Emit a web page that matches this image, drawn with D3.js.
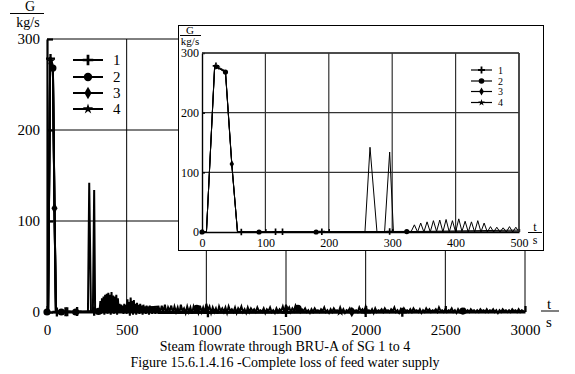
<!DOCTYPE html>
<html>
<head>
<meta charset="utf-8">
<script src="https://cdnjs.cloudflare.com/ajax/libs/d3/7.8.5/d3.min.js"></script>
<style>
  body { margin: 0; background: #fff; }
  svg { display: block; }
  text { font-family: "Liberation Serif", "Times New Roman", serif; fill: #000; }
</style>
</head>
<body>
<div id="chart"></div>
<script>
// ---- data ----
const seriesNames = ["1", "2", "3", "4"];
const markerTypes = ["plus", "circle", "diamond", "star"];

// first discharge peak (all SGs)
const peakT = [0, 7, 20, 24, 30, 37, 47, 56];
const peakV1 = [0, 0, 280, 277, 274, 270, 115, 0];
const peakV2 = [0, 0, 278, 276, 272, 268, 113, 0];
const peakV3 = [0, 0, 279, 275, 273, 269, 114, 0];
const peakV4 = [0, 0, 277, 276, 272, 267, 112, 0];

// later short openings
const spike1T = [257, 265, 276];
const spike1V = [0, 142, 0];
const spike2T = [288, 296, 302];
const spike2V = [0, 134, 0];

// oscillating flow after 330 s, every 5 s up to 700 s
const noiseAStart = 330, noiseAStep = 5;
const noiseA = [1, 12, -2, 15, 0, 17, -3, 19, 1, 20, -2, 21, 0, 19, -3, 22, 1, 18, -2, 17,
  0, 19, -3, 15, 0, 9, -1, 8, 0, 7, -2, 9, 0, 8, -2, 14, 1, 11, -4, 16,
  0, 12, -3, 13, 1, 9, -3, 10, 0, 8, -2, 9, 1, 7, -3, 8, 0, 6, -2, 7,
  1, 5, -3, 7, 0, 6, -2, 5, 1, 6, -2, 5, 0, 6, -1];

// small flow from 700 s to 3000 s, every 10 s
const noiseBStart = 700, noiseBStep = 10;
const noiseB = [6, -1, 7, 0, 8, -2, 5, 1, 7, -1, 6, 0, 5, -2, 8, 1, 4, -1, 6, 0,
  5, -2, 6, 1, 4, -1, 7, 0, 5, -1, 9, 2, 6, -1, 5, 0, 4, -2, 6, 1,
  4, 0, 5, -1, 6, 1, 3, 0, 5, -1, 4, 1, 6, 0, 3, -1, 5, 0, 4, 1,
  3, 0, 5, 1, 2, 0, 4, -1, 3, 1, 5, 0, 2, -1, 4, 0, 3, 1, 6, 0,
  8, 2, 5, 0, 4, 1, 7, 3, 5, 0, 3, 1, 4, 0, 2, -1, 3, 0, 4, 1,
  2, 0, 3, 1, 5, 0, 2, -1, 3, 0, 4, 1, 2, 0, 5, 0, 3, -1, 2, 1,
  4, 0, 3, 1, 2, 0, 5, 1, 3, 0, 6, 1, 2, 0, 3, -1, 4, 0, 2, 1,
  3, 0, 4, 1, 2, 0, 3, 1, 5, 0, 2, -1, 3, 0, 4, 1, 2, 0, 3, 0,
  4, 1, 2, 0, 3, -1, 2, 0, 4, 1, 3, 0, 2, 1, 3, 0, 5, 1, 2, 0,
  3, 0, 2, 1, 4, 0, 2, -1, 3, 0, 2, 1, 3, 0, 2, 0, 3, 1, 2, 0,
  2, 0, 3, 1, 2, 0, 3, 0, 2, 1, 3, 0, 2, -1, 2, 0, 3, 1, 2, 0,
  2, 0, 3, 1, 2, 0, 3, 0, 2, 1, 0];

// times where each curve carries its marker
const markerTimes1 = [22, 62, 116, 127, 189, 296, 1010, 1500, 2000, 2230];
const markerTimes2 = [0, 37, 90, 180, 323, 940, 1575, 2610];
const markerTimes3 = [47, 1913];
const markerTimes4 = [24, 1840];

const xTicksMain = [0, 500, 1000, 1500, 2000, 2500, 3000];
const yTicks = [0, 100, 200, 300];
const xTicksInset = [0, 100, 200, 300, 400, 500];

const caption1 = "Steam flowrate through BRU-A of SG 1 to 4";
const caption2 = "Figure 15.6.1.4.16 -Complete loss of feed water supply";

const serif = '"Liberation Serif", "Times New Roman", serif';

// ---- build the curves ----
function pts(ts, vs) { return ts.map((t, i) => ({t: t, v: vs[i]})); }
const noiseAPts = noiseA.map((v, i) => ({t: noiseAStart + i * noiseAStep, v: v}));
const noiseBPts = noiseB.map((v, i) => ({t: noiseBStart + i * noiseBStep, v: v}));

const series = [
  pts(peakT, peakV1).concat(noiseAPts, [{t: 3000, v: 0}]),
  pts(peakT, peakV2).concat(pts(spike1T, spike1V), noiseBPts),
  pts(peakT, peakV3).concat(pts(spike2T, spike2V), [{t: 3000, v: 0}]),
  pts(peakT, peakV4).concat([{t: 3000, v: 0}])
];
const markerTimes = [markerTimes1, markerTimes2, markerTimes3, markerTimes4];

const bis = d3.bisector(d => d.t).left;
function valueAt(s, t) {
  let i = bis(s, t);
  if (i <= 0) return s[0].v;
  if (i >= s.length) return s[s.length - 1].v;
  let a = s[i - 1], b = s[i];
  return a.v + (b.v - a.v) * (t - a.t) / (b.t - a.t);
}

const width = 575, height = 374;
const svg = d3.select("#chart").append("svg")
  .attr("width", width).attr("height", height);

function drawMarker(g, type, x, y, k) {
  if (type === "plus") {
    g.append("path")
      .attr("d", `M${x - 5 * k},${y}H${x + 5 * k}M${x},${y - 5 * k}V${y + 5 * k}`)
      .attr("stroke", "#000").attr("stroke-width", 2.6 * k).attr("fill", "none");
  } else if (type === "circle") {
    g.append("circle").attr("cx", x).attr("cy", y).attr("r", 4 * k).attr("fill", "#000");
  } else if (type === "diamond") {
    g.append("path").attr("d", d3.symbol(d3.symbolDiamond, 40 * k * k)())
      .attr("transform", `translate(${x},${y})`).attr("fill", "#000");
  } else {
    g.append("path").attr("d", d3.symbol(d3.symbolStar, 30 * k * k)())
      .attr("transform", `translate(${x},${y})`).attr("fill", "#000");
  }
}

// ---- main chart ----
let x = d3.scaleLinear().domain([0, 3000]).range([47, 525]);
let y = d3.scaleLinear().domain([0, 300]).range([312, 39]);

let main = svg.append("g");

// grid
main.append("g").selectAll("line").data(xTicksMain.slice(1))
  .join("line")
  .attr("x1", d => x(d)).attr("x2", d => x(d))
  .attr("y1", y(0)).attr("y2", y(300))
  .attr("stroke", "#000").attr("stroke-width", 1);
main.append("g").selectAll("line").data(yTicks.slice(1))
  .join("line")
  .attr("x1", x(0)).attr("x2", x(3000))
  .attr("y1", d => y(d)).attr("y2", d => y(d))
  .attr("stroke", "#000").attr("stroke-width", 1);

// curves
let line = d3.line().x(d => x(d.t)).y(d => y(d.v));
series.forEach(s => {
  main.append("path").datum(s)
    .attr("d", line)
    .attr("fill", "none").attr("stroke", "#000").attr("stroke-width", 2);
});
series.forEach((s, i) => {
  markerTimes[i].forEach(t => drawMarker(main, markerTypes[i], x(t), y(valueAt(s, t)), 0.9));
});

// axes
let xAxis = main.append("g").attr("transform", `translate(0,${y(0)})`)
  .call(d3.axisBottom(x).tickValues(xTicksMain).tickFormat(d3.format("d"))
    .tickSizeInner(-6).tickSizeOuter(0).tickPadding(12));
let yAxis = main.append("g").attr("transform", `translate(${x(0)},0)`)
  .call(d3.axisLeft(y).tickValues(yTicks).tickFormat(d3.format("d"))
    .tickSizeInner(-6).tickSizeOuter(0).tickPadding(7));
[xAxis, yAxis].forEach(a => {
  a.attr("font-family", serif);
  a.select(".domain").attr("stroke", "#000").attr("stroke-width", 2.2);
  a.selectAll(".tick line").attr("stroke", "#000").attr("stroke-width", 2.2);
  a.selectAll("text").style("font-size", "15px").style("font-family", serif).attr("fill", "#000");
});

// axis names
main.append("text").attr("x", 30).attr("y", 11).attr("text-anchor", "middle")
  .style("font-size", "14px").text("G");
main.append("line").attr("x1", 10).attr("x2", 44).attr("y1", 13.5).attr("y2", 13.5)
  .attr("stroke", "#000").attr("stroke-width", 1);
main.append("text").attr("x", 28).attr("y", 27).attr("text-anchor", "middle")
  .style("font-size", "14px").text("kg/s");
main.append("text").attr("x", 549).attr("y", 309).attr("text-anchor", "middle")
  .style("font-size", "15px").text("t");
main.append("line").attr("x1", 541).attr("x2", 559).attr("y1", 311).attr("y2", 311)
  .attr("stroke", "#000").attr("stroke-width", 1);
main.append("text").attr("x", 549).attr("y", 327).attr("text-anchor", "middle")
  .style("font-size", "15px").text("s");

// legend
let legend = main.append("g");
seriesNames.forEach((n, i) => {
  let ly = [60, 77, 93, 109][i];
  legend.append("line").attr("x1", 73).attr("x2", 103).attr("y1", ly).attr("y2", ly)
    .attr("stroke", "#000").attr("stroke-width", 2);
  drawMarker(legend, markerTypes[i], 88, ly, 1.05);
  legend.append("text").attr("x", 113).attr("y", ly + 5).style("font-size", "15px").text(n);
});

// captions
svg.append("text").attr("x", 285).attr("y", 351).attr("text-anchor", "middle")
  .style("font-size", "14px").text(caption1);
svg.append("text").attr("x", 285).attr("y", 367).attr("text-anchor", "middle")
  .style("font-size", "14px").text(caption2);

// ---- inset: first 500 s ----
let xi = d3.scaleLinear().domain([0, 500]).range([202, 519]);
let yi = d3.scaleLinear().domain([0, 300]).range([232, 53]);

let inset = svg.append("g");
inset.append("rect").attr("x", 178.5).attr("y", 25.5).attr("width", 365).attr("height", 225)
  .attr("fill", "#fff").attr("stroke", "#000").attr("stroke-width", 1);

inset.append("g").selectAll("line").data(xTicksInset.slice(1))
  .join("line")
  .attr("x1", d => xi(d)).attr("x2", d => xi(d))
  .attr("y1", yi(0)).attr("y2", yi(300))
  .attr("stroke", "#333").attr("stroke-width", 1.2);
inset.append("g").selectAll("line").data(yTicks.slice(1))
  .join("line")
  .attr("x1", xi(0)).attr("x2", xi(500))
  .attr("y1", d => yi(d)).attr("y2", d => yi(d))
  .attr("stroke", "#333").attr("stroke-width", 1.2);

svg.append("clipPath").attr("id", "insetClip").append("rect")
  .attr("x", xi(0)).attr("y", yi(300) - 5).attr("width", xi(500) - xi(0)).attr("height", yi(0) - yi(300) + 10);

let insetLine = d3.line().x(d => xi(d.t)).y(d => yi(Math.max(d.v, 0)));
let insetCurves = inset.append("g").attr("clip-path", "url(#insetClip)");
series.forEach(s => {
  insetCurves.append("path").datum(s)
    .attr("d", insetLine)
    .attr("fill", "none").attr("stroke", "#000").attr("stroke-width", 1);
});
series.forEach((s, i) => {
  markerTimes[i].filter(t => t <= 500)
    .forEach(t => drawMarker(inset, markerTypes[i], xi(t), yi(Math.max(valueAt(s, t), 0)), 0.65));
});

let xiAxis = inset.append("g").attr("transform", `translate(0,${yi(0)})`)
  .call(d3.axisBottom(xi).tickValues(xTicksInset).tickFormat(d3.format("d"))
    .tickSizeInner(-3).tickSizeOuter(0).tickPadding(6));
let yiAxis = inset.append("g").attr("transform", `translate(${xi(0)},0)`)
  .call(d3.axisLeft(yi).tickValues(yTicks).tickFormat(d3.format("d"))
    .tickSizeInner(-3).tickSizeOuter(0).tickPadding(3));
[xiAxis, yiAxis].forEach(a => {
  a.attr("font-family", serif);
  a.select(".domain").attr("stroke", "#000").attr("stroke-width", 1.4);
  a.selectAll(".tick line").attr("stroke", "#000").attr("stroke-width", 1.4);
  a.selectAll("text").style("font-size", "12px").style("font-family", serif).attr("fill", "#000");
});
// inset frame top/right
inset.append("line").attr("x1", xi(0)).attr("x2", xi(500)).attr("y1", yi(300)).attr("y2", yi(300))
  .attr("stroke", "#333").attr("stroke-width", 1.4);
inset.append("line").attr("x1", xi(500)).attr("x2", xi(500)).attr("y1", yi(300)).attr("y2", yi(0))
  .attr("stroke", "#333").attr("stroke-width", 1.4);

inset.append("text").attr("x", 190).attr("y", 34).attr("text-anchor", "middle")
  .style("font-size", "11px").text("G");
inset.append("line").attr("x1", 180).attr("x2", 201).attr("y1", 35.5).attr("y2", 35.5)
  .attr("stroke", "#000").attr("stroke-width", 1);
inset.append("text").attr("x", 190).attr("y", 45).attr("text-anchor", "middle")
  .style("font-size", "11px").text("kg/s");
inset.append("text").attr("x", 535).attr("y", 231).attr("text-anchor", "middle")
  .style("font-size", "12px").text("t");
inset.append("line").attr("x1", 528).attr("x2", 542).attr("y1", 232.5).attr("y2", 232.5)
  .attr("stroke", "#000").attr("stroke-width", 1);
inset.append("text").attr("x", 535).attr("y", 244).attr("text-anchor", "middle")
  .style("font-size", "12px").text("s");

let insetLegend = inset.append("g");
seriesNames.forEach((n, i) => {
  let ly = [70, 81, 91.5, 102.5][i];
  insetLegend.append("line").attr("x1", 471).attr("x2", 492).attr("y1", ly).attr("y2", ly)
    .attr("stroke", "#000").attr("stroke-width", 1.2);
  drawMarker(insetLegend, markerTypes[i], 481.5, ly, 0.7);
  insetLegend.append("text").attr("x", 498).attr("y", ly + 3.5).style("font-size", "10px").text(n);
});
</script>
</body>
</html>
